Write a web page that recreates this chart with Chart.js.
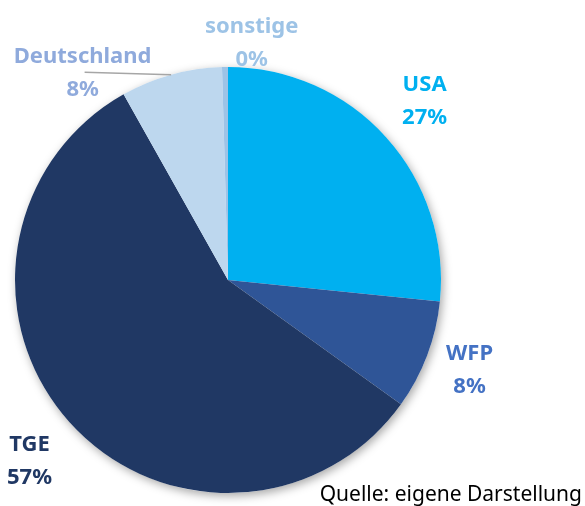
<!DOCTYPE html>
<html>
<head>
<meta charset="utf-8">
<script src="https://cdn.jsdelivr.net/npm/chart.js@4"></script>
<style>
  html, body { margin: 0; padding: 0; background: #fff; }
  #wrap { position: relative; width: 585px; height: 506px; }
  #quelle { position: absolute; right: 3px; bottom: -1px; font-family: "Noto Sans", sans-serif; font-size: 21px; color: #000; }
</style>
</head>
<body>
<div id="wrap">
  <canvas id="lienzo" width="585" height="506"></canvas>
  <div id="quelle">Quelle: eigene Darstellung</div>
</div>
<script>
// Anteile in Prozent (im Uhrzeigersinn ab 12 Uhr)
const kategorien = ["USA", "WFP", "TGE", "Deutschland", "sonstige"];
const anteile = [26.6, 8.3, 56.9, 7.7, 0.45];
const farben = ["#00B0F0", "#2F5597", "#203864", "#BDD7EE", "#9DC3E6"];
const textFarben = ["#00B0F0", "#4472C4", "#203864", "#8FAADC", "#9DC3E6"];
// Label-Lage: Winkel (Grad ab 12 Uhr) und Abstand relativ zum Radius
const labelLage = [[47.6, 1.25], [110.4, 1.21], [227.7, 1.26], [325, 1.19], [5.7, 1.12]];

const schatten = {
  id: 'schatten',
  beforeDatasetsDraw(chart) {
    const arc = chart.getDatasetMeta(0).data[0];
    const ctx = chart.ctx;
    ctx.save();
    ctx.shadowColor = 'rgba(0,0,0,0.35)';
    ctx.shadowBlur = 10;
    ctx.shadowOffsetX = 2;
    ctx.shadowOffsetY = 3;
    ctx.fillStyle = '#fff';
    ctx.beginPath();
    ctx.arc(arc.x, arc.y, arc.outerRadius, 0, Math.PI * 2);
    ctx.fill();
    ctx.restore();
  }
};

const beschriftung = {
  id: 'beschriftung',
  afterDatasetsDraw(chart) {
    const ctx = chart.ctx;
    const meta = chart.getDatasetMeta(0);
    ctx.save();
    ctx.font = 'bold 22px "Noto Sans", sans-serif';
    ctx.textAlign = 'center';
    ctx.textBaseline = 'middle';
    meta.data.forEach((arc, i) => {
      const a = labelLage[i][0] * Math.PI / 180;
      const r = arc.outerRadius * labelLage[i][1];
      const x = arc.x + r * Math.sin(a);
      const y = arc.y - r * Math.cos(a);
      if (kategorien[i] === 'Deutschland') {
        // Führungslinie vom Segment zum Label
        const mid = (arc.startAngle + arc.endAngle) / 2;
        ctx.strokeStyle = '#a6a6a6';
        ctx.lineWidth = 1.5;
        ctx.beginPath();
        ctx.moveTo(arc.x + arc.outerRadius * Math.cos(mid), arc.y + arc.outerRadius * Math.sin(mid));
        ctx.lineTo(x + 2, y);
        ctx.stroke();
      }
      ctx.fillStyle = textFarben[i];
      ctx.fillText(kategorien[i], x, y - 16);
      ctx.fillText(Math.round(anteile[i]) + '%', x, y + 17);
    });
    ctx.restore();
  }
};

const contexto = document.getElementById("lienzo").getContext("2d");
const grafico = new Chart(contexto, {
  type: 'pie',
  data: {
    labels: kategorien,
    datasets: [{
      data: anteile,
      backgroundColor: farben,
      borderWidth: 0
    }]
  },
  options: {
    responsive: false,
    animation: false,
    layout: { padding: { left: 15, right: 144, top: 67, bottom: 13 } },
    plugins: {
      legend: { display: false },
      tooltip: { enabled: false }
    }
  },
  plugins: [schatten, beschriftung]
});
</script>
</body>
</html>
